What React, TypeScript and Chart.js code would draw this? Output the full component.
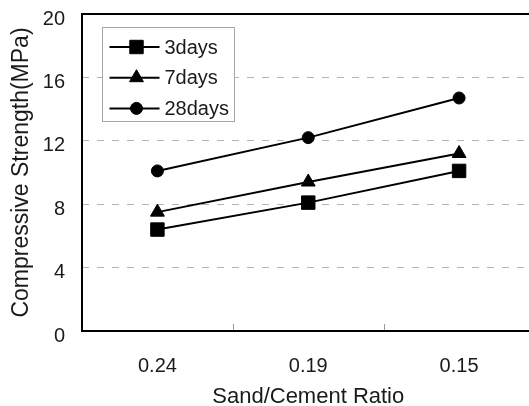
import React, { useEffect, useRef } from 'react';
import { Chart, registerables } from 'chart.js';
import { drawPoint } from 'chart.js/helpers';

Chart.register(...registerables);

const categories = ['0.24', '0.19', '0.15'];
const seriesLabels = ['3days', '7days', '28days'];
const days3 = [6.4, 8.1, 10.1];
const days7 = [7.5, 9.4, 11.2];
const days28 = [10.1, 12.2, 14.7];
const yTickValues = [0, 4, 8, 12, 16, 20];

const FONT = "'Liberation Sans', Arial, sans-serif";
const TEXT = '#1a1a1a';

const framePlugin = {
  id: 'frame',
  beforeDatasetsDraw(chart: any) {
    const { ctx, chartArea } = chart;
    const xs = chart.scales.x;
    ctx.save();
    ctx.strokeStyle = '#9a9a9a';
    ctx.lineWidth = 1;
    for (let i = 0; i < categories.length; i++) {
      const px = Math.round(xs.getPixelForValue(i + 0.5)) + 0.5;
      ctx.beginPath();
      ctx.moveTo(px, chartArea.bottom);
      ctx.lineTo(px, chartArea.bottom - 7);
      ctx.stroke();
    }
    ctx.strokeStyle = '#000';
    ctx.lineWidth = 2;
    ctx.strokeRect(chartArea.left, chartArea.top, chartArea.right - chartArea.left, chartArea.bottom - chartArea.top);
    ctx.restore();
  },
};

const legendPlugin = {
  id: 'boxLegend',
  afterDatasetsDraw(chart: any) {
    const { ctx, chartArea } = chart;
    const bx = chartArea.left + 20.5;
    const by = chartArea.top + 13.5;
    const bw = 132;
    const bh = 94;
    ctx.save();
    ctx.fillStyle = '#ffffff';
    ctx.fillRect(bx, by, bw, bh);
    ctx.strokeStyle = '#a6a6a6';
    ctx.lineWidth = 1;
    ctx.strokeRect(bx, by, bw, bh);
    chart.data.datasets.forEach((ds: any, i: number) => {
      const y = by + 19.5 + i * 30.7;
      ctx.strokeStyle = '#000';
      ctx.lineWidth = 2;
      ctx.beginPath();
      ctx.moveTo(bx + 7, y);
      ctx.lineTo(bx + 57, y);
      ctx.stroke();
      ctx.fillStyle = '#000';
      ctx.lineWidth = 1;
      drawPoint(ctx, { pointStyle: ds.pointStyle, radius: ds.pointRadius, rotation: 0, borderWidth: 1 } as any, bx + 34, y);
      ctx.fillStyle = TEXT;
      ctx.font = `20px ${FONT}`;
      ctx.textAlign = 'left';
      ctx.textBaseline = 'middle';
      ctx.fillText(ds.label, bx + 62, y + 1);
    });
    ctx.restore();
  },
};

export default function App() {
  const ref = useRef<HTMLCanvasElement>(null);
  useEffect(() => {
    if (!ref.current) return;
    const mk = (label: string, data: number[], style: string, r: number) => ({
      label,
      data,
      borderColor: '#000',
      borderWidth: 2,
      pointStyle: style,
      pointRadius: r,
      pointBackgroundColor: '#000',
      pointBorderColor: '#000',
      pointBorderWidth: 1,
      tension: 0,
      clip: false as any,
    });
    const chart = new Chart(ref.current, {
      type: 'line',
      data: {
        labels: categories,
        datasets: [
          mk(seriesLabels[0], days3, 'rect', 9.5),
          mk(seriesLabels[1], days7, 'triangle', 8),
          mk(seriesLabels[2], days28, 'circle', 6),
        ],
      },
      options: {
        animation: false,
        responsive: false,
        maintainAspectRatio: false,
        events: [],
        layout: { padding: { top: 14, right: 10, left: 0, bottom: 0 } },
        plugins: { legend: { display: false }, tooltip: { enabled: false } },
        scales: {
          x: {
            type: 'category',
            offset: true,
            grid: { display: false },
            border: { display: false },
            ticks: { color: TEXT, font: { family: FONT, size: 20 }, padding: 15, maxRotation: 0 },
            title: {
              display: true,
              text: 'Sand/Cement Ratio',
              color: TEXT,
              font: { family: FONT, size: 22, lineHeight: 0.82 },
              padding: 0,
            },
            afterFit: (s: any) => {
              s.height = 75;
              s.paddingLeft = 0;
              s.paddingRight = 0;
            },
          },
          y: {
            min: 0,
            max: 20,
            afterBuildTicks: (s: any) => {
              s.ticks = yTickValues.map((v) => ({ value: v }));
            },
            ticks: { color: TEXT, font: { family: FONT, size: 20 }, padding: 17, labelOffset: 5 },
            grid: {
              drawTicks: false,
              lineWidth: 1,
              color: (c: any) => (c.tick && (c.tick.value === 0 || c.tick.value === 20) ? 'rgba(0,0,0,0)' : '#b4b4b4'),
            },
            border: { display: false, dash: [7, 8] },
            title: {
              display: true,
              text: 'Compressive Strength(MPa)',
              color: TEXT,
              font: { family: FONT, size: 23, lineHeight: 1 },
              padding: { top: 10, bottom: 0 },
            },
            afterFit: (s: any) => {
              s.width = 82;
              s.paddingTop = 0;
              s.paddingBottom = 0;
            },
          },
        },
      },
      plugins: [framePlugin, legendPlugin],
    });
    return () => chart.destroy();
  }, []);
  return (
    <div style={{ position: 'absolute', left: 0, top: 0, width: 529, height: 406, overflow: 'hidden', background: '#fff' }}>
      <canvas ref={ref} width={545} height={406} style={{ width: 545, height: 406, display: 'block' }} />
    </div>
  );
}
